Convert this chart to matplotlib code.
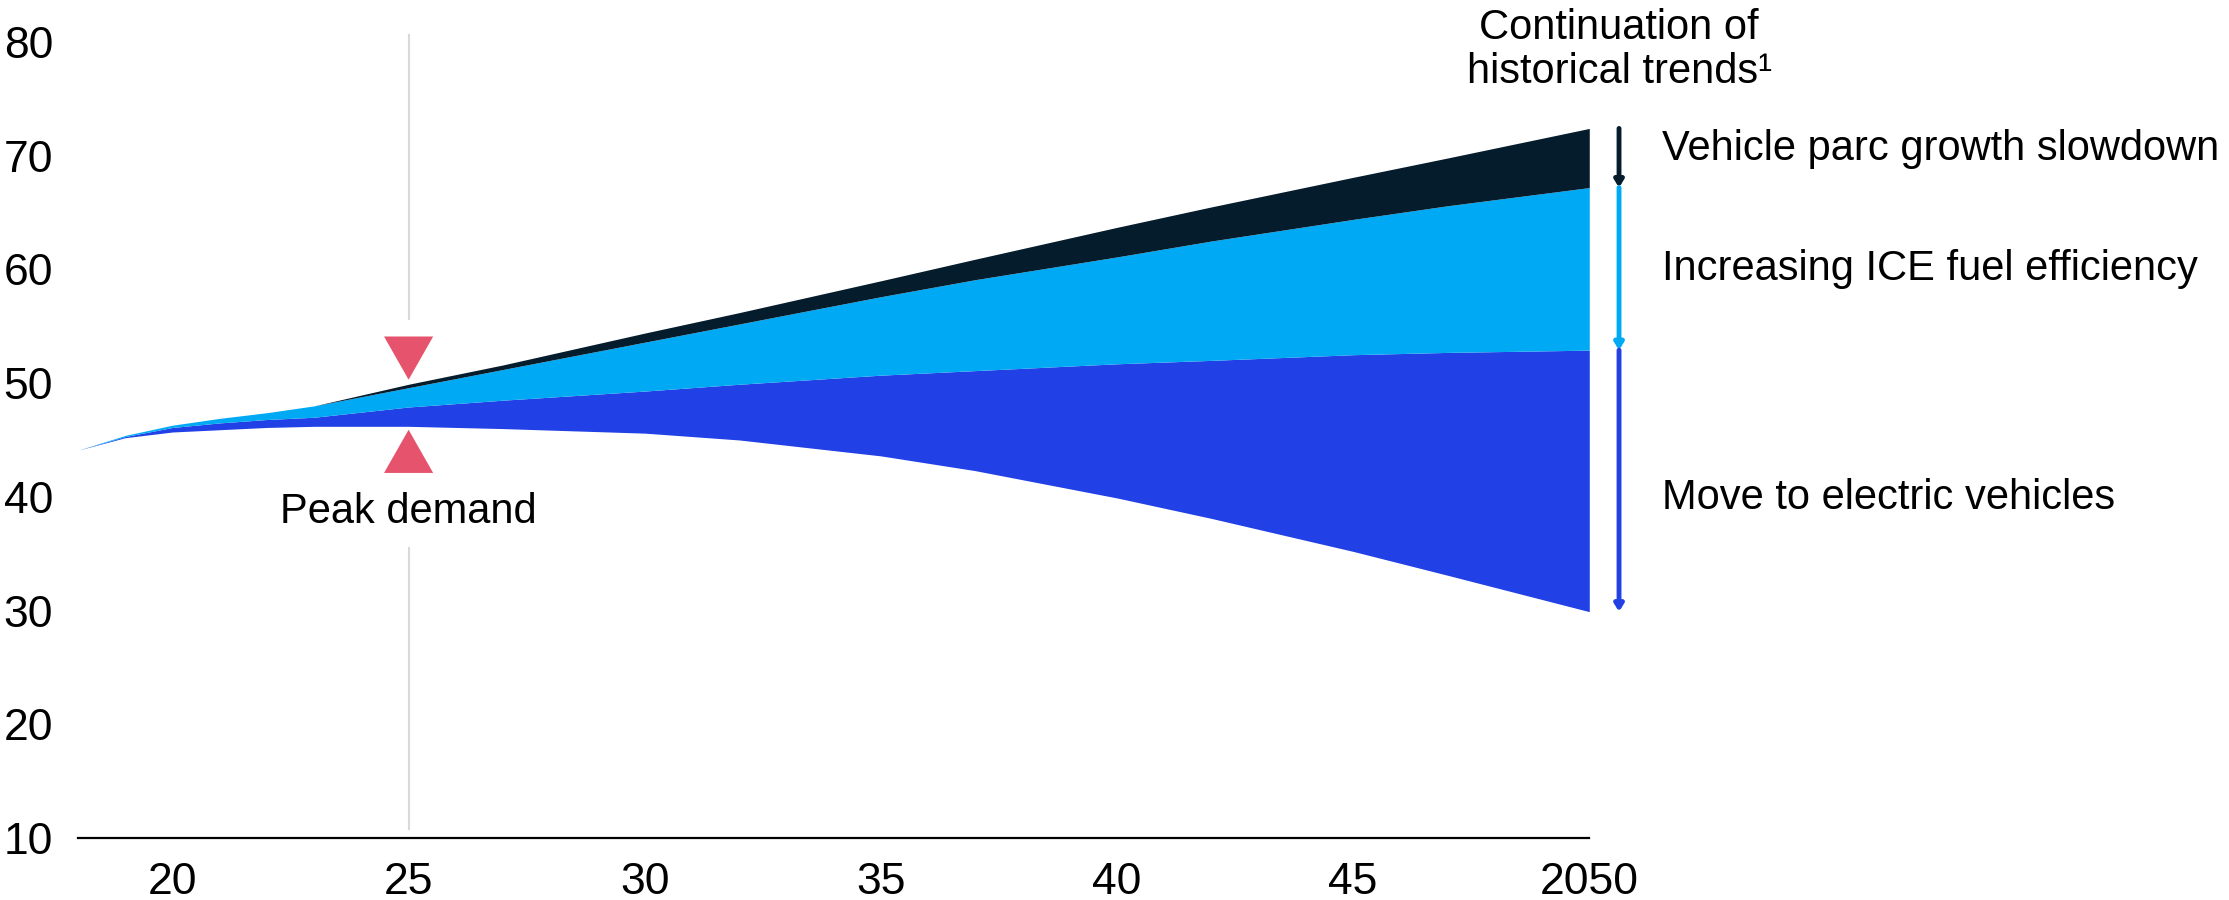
import matplotlib
matplotlib.use("Agg")
import matplotlib.pyplot as plt

plt.rcParams['font.family'] = ['Liberation Sans', 'DejaVu Sans']

# Data
years = [2018, 2019, 2020, 2021, 2022, 2023, 2025, 2027, 2030, 2032, 2035, 2037, 2040, 2042, 2045, 2047, 2050]
trend = [44.1, 45.4, 46.3, 46.9, 47.4, 48.0, 49.9, 51.6, 54.4, 56.2, 59.0, 60.9, 63.7, 65.5, 68.1, 69.8, 72.4]   # historical trends
ice = [44.1, 45.4, 46.3, 46.9, 47.4, 48.0, 49.6, 51.2, 53.6, 55.2, 57.6, 59.1, 61.1, 62.5, 64.4, 65.6, 67.2]     # after parc slowdown
ev = [44.1, 45.3, 46.1, 46.5, 46.8, 47.0, 47.9, 48.5, 49.3, 49.9, 50.7, 51.1, 51.7, 52.0, 52.5, 52.7, 52.9]      # after ICE efficiency
demand = [44.1, 45.2, 45.7, 45.9, 46.1, 46.2, 46.2, 46.0, 45.6, 45.0, 43.6, 42.3, 39.9, 38.1, 35.2, 33.1, 29.9]  # after EVs

xticks = [2020, 2025, 2030, 2035, 2040, 2045, 2050]
xticklabels = ['20', '25', '30', '35', '40', '45', '2050']
yticks = [10, 20, 30, 40, 50, 60, 70, 80]

labels = ['Vehicle parc growth slowdown', 'Increasing ICE fuel efficiency', 'Move to electric vehicles']
label_y = [70.6, 60.0, 39.9]

NAVY = '#051C2C'
LIGHT = '#00A9F4'
BLUE = '#2140E6'
PINK = '#E5546C'
PEAK = 2025

fig = plt.figure(figsize=(22.29, 9), dpi=100)
ax = fig.add_axes([0.035, 0.069, 0.678, 0.8843])

ax.fill_between(years, demand, ev, color=BLUE, linewidth=0)
ax.fill_between(years, ev, ice, color=LIGHT, linewidth=0)
ax.fill_between(years, ice, trend, color=NAVY, linewidth=0)

ax.set_xlim(2018, 2050)
ax.set_ylim(10, 80)
ax.set_xticks(xticks)
ax.set_xticklabels(xticklabels)
ax.set_yticks(yticks)
ax.tick_params(axis='both', length=0, labelsize=32)
ax.tick_params(axis='y', pad=18)
ax.tick_params(axis='x', pad=17)
for s in ['top', 'right', 'left']:
    ax.spines[s].set_visible(False)
ax.spines['bottom'].set_linewidth(1.6)
ax.spines['bottom'].set_color('black')

# peak demand marker
ax.plot([PEAK, PEAK], [55.6, 80.6], color='#D9D9D9', lw=1.5, clip_on=False, zorder=0)
ax.plot([PEAK, PEAK], [10.8, 35.5], color='#D9D9D9', lw=1.5, zorder=0)
hw = 0.52
ax.fill([PEAK - hw, PEAK + hw, PEAK], [54.1, 54.1, 50.3], color=PINK, lw=0, zorder=5)
ax.fill([PEAK - hw, PEAK + hw, PEAK], [42.1, 42.1, 45.9], color=PINK, lw=0, zorder=5)
ax.text(PEAK, 38.7, 'Peak demand', ha='center', va='center', fontsize=30)

# right side arrows and labels
xa = 2050.63
segs = [(trend[-1], ice[-1], NAVY), (ice[-1], ev[-1], LIGHT), (ev[-1], demand[-1], BLUE)]
for top, bot, c in segs:
    ax.annotate('', xy=(xa, bot), xytext=(xa, top), annotation_clip=False,
                arrowprops=dict(arrowstyle='-|>,head_width=0.25,head_length=0.4',
                                color=c, lw=3.5, shrinkA=0, shrinkB=0))
for txt, y in zip(labels, label_y):
    ax.text(2051.55, y, txt, ha='left', va='center', fontsize=30, clip_on=False)

ax.text(xa, 79.3, 'Continuation of\nhistorical trends\u00b9', ha='center', va='center',
        fontsize=30, linespacing=1.15, clip_on=False)

fig.savefig('out.png', dpi=100)
